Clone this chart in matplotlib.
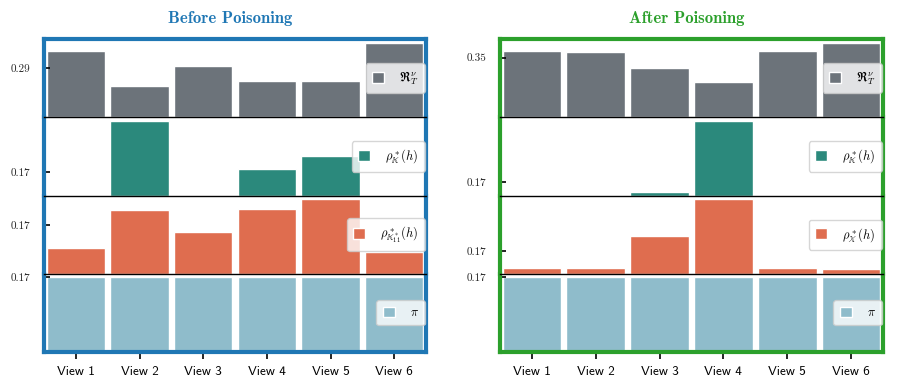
import numpy as np
import matplotlib
matplotlib.use("Agg")
import matplotlib.pyplot as plt
from matplotlib.lines import Line2D

plt.rcParams["mathtext.fontset"] = "cm"
plt.rcParams["font.family"] = ["cmr10", "DejaVu Serif"]
plt.rcParams["axes.formatter.use_mathtext"] = True

# ---------------- data ----------------
views = ["View 1", "View 2", "View 3", "View 4", "View 5", "View 6"]

# before poisoning
before_R = [0.391, 0.183, 0.302, 0.213, 0.213, 0.438]
before_rho_K = [0.0, 0.532, 0.0, 0.187, 0.281, 0.0]
before_rho_K11 = [0.087, 0.218, 0.145, 0.221, 0.256, 0.073]
before_pi = [1 / 6] * 6

# after poisoning
after_R = [0.390, 0.384, 0.290, 0.207, 0.390, 0.438]
after_rho_K = [0.0, 0.0, 0.045, 0.955, 0.0, 0.0]
after_rho_X = [0.044, 0.044, 0.281, 0.550, 0.044, 0.037]
after_pi = [1 / 6] * 6

row_colors = ["#6c737a", "#2b897c", "#df6d4f", "#8fbccb"]
labels_before = [r"$\mathfrak{R}_T^{\nu}$", r"$\rho^*_{\mathbb{K}}(h)$",
                 r"$\rho^*_{\mathbb{K}^*_{11}}(h)$", r"$\pi$"]
labels_after = [r"$\mathfrak{R}_T^{\nu}$", r"$\rho^*_{\mathbb{K}}(h)$",
                r"$\rho^*_{\mathbb{X}}(h)$", r"$\pi$"]

fig = plt.figure(figsize=(8.97, 3.9), dpi=100)

top, bottom = 1 - 39 / 390, 1 - 352 / 390
row_h = (top - bottom) / 4


def draw_panel(left, width, rows, labels, frame_color, title):
    x = np.arange(len(views))
    for i, (vals, col, lab) in enumerate(zip(rows, row_colors, labels)):
        ax = fig.add_axes([left, top - (i + 1) * row_h, width, row_h])
        ax.patch.set_alpha(0)
        ax.bar(x, vals, width=0.92, color=col, edgecolor="white", linewidth=1, label=lab)
        ax.set_xlim(-0.5, 5.5)
        ax.set_ylim(0, max(vals) * 1.05)
        m = np.mean(vals)
        ax.set_yticks([m])
        ax.set_yticklabels(["%.2f" % m], fontsize=8, color="#222222")
        ax.tick_params(axis="y", direction="in", length=4, width=1.2, pad=10, color="black")
        for s in ["left", "right"]:
            ax.spines[s].set_color(frame_color)
            ax.spines[s].set_linewidth(3)
        ax.spines["top"].set_visible(i == 0)
        ax.spines["top"].set_color(frame_color)
        ax.spines["top"].set_linewidth(3)
        if i < 3:
            ax.spines["bottom"].set_visible(False)
            ax.set_xticks([])
        else:
            ax.spines["bottom"].set_color(frame_color)
            ax.spines["bottom"].set_linewidth(3)
            ax.set_xticks(x)
            ax.set_xticklabels(views, fontsize=9.5, family=["cmss10", "DejaVu Sans"])
            ax.tick_params(axis="x", length=5, width=1.2, pad=5, color="black")
        ax.legend(loc="center right", fontsize=9, handlelength=0.95, handleheight=0.95,
                  handletextpad=1.2, borderaxespad=0.1, framealpha=0.8,
                  edgecolor="#cccccc", borderpad=0.5)
    # black separators between the rows
    for i in range(1, 4):
        y = top - i * row_h
        fig.add_artist(Line2D([left, left + width], [y, y], color="black", lw=1, zorder=10))
    fig.text(left + width / 2 - 5 / 897, 1 - 19 / 390, title, family=["cmb10", "DejaVu Serif"],
             color=frame_color, fontsize=12, ha="center", va="center")


draw_panel(44 / 897, 382 / 897, [before_R, before_rho_K, before_rho_K11, before_pi],
           labels_before, "#1f77b4", "Before Poisoning")
draw_panel(500 / 897, 383 / 897, [after_R, after_rho_K, after_rho_X, after_pi],
           labels_after, "#2ca02c", "After Poisoning")

plt.savefig("out.png", dpi=100)
